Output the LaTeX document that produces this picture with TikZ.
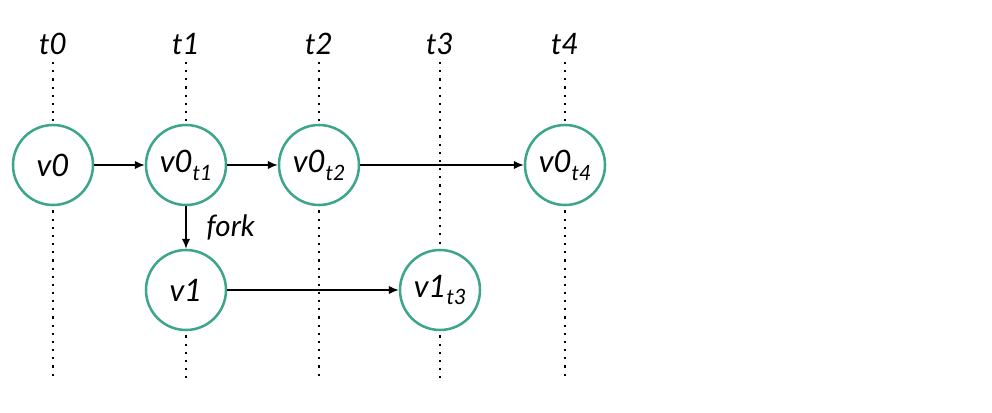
\documentclass[tikz,border=0pt]{standalone}
\usepackage{fontspec}
\setmainfont{Lato}
\usepackage{tikz}
\usetikzlibrary{positioning,arrows.meta}

\definecolor{vgreen}{RGB}{60,165,138}
\newcommand{\vsub}[2]{#1\raisebox{-0.5ex}{\fontsize{15}{15}\selectfont #2}}

\tikzset{
  vertex/.style={circle, draw=vgreen, line width=1.8pt, minimum size=2cm, inner sep=0pt, font=\fontsize{22}{24}\selectfont\itshape},
  tlabel/.style={font=\fontsize{21}{23}\selectfont\itshape, inner sep=2pt},
  timeline/.style={line width=1.5pt, dash pattern=on 1.5pt off 4.3pt, line cap=butt},
  link/.style={-{Latex[length=7pt,width=6pt]}, line width=1.1pt}
}

\begin{document}
\begin{tikzpicture}
  \useasboundingbox (0,0) rectangle (24.8,10.3);
  % time labels
  \node (t0) [tlabel] at (1.325,9.2) {t0};
  \node (t1) [tlabel] at (4.65,9.2) {t1};
  \node (t2) [tlabel] at (7.975,9.2) {t2};
  \node (t3) [tlabel] at (11.0,9.2) {t3};
  \node (t4) [tlabel] at (14.125,9.2) {t4};
  % vertices
  \node (v0) [vertex] at (1.325,6.175) {v0};
  \node (v0t1) [vertex] at (4.65,6.175) {\vsub{v0}{t1}};
  \node (v0t2) [vertex] at (7.975,6.175) {\vsub{v0}{t2}};
  \node (v0t4) [vertex] at (14.125,6.175) {\vsub{v0}{t4}};
  \node (v1) [vertex] at (4.65,3.05) {v1};
  \node (v1t3) [vertex] at (11.0,3.05) {\vsub{v1}{t3}};
  % ends of the time lines
  \coordinate (b0) at (1.325,0.8);
  \coordinate (b1) at (4.65,0.8);
  \coordinate (b2) at (7.975,0.8);
  \coordinate (b3) at (11.0,0.8);
  \coordinate (b4) at (14.125,0.8);
  % time lines
  \draw[timeline, shorten <=3pt] (t0) -- (v0);
  \draw[timeline, shorten <=3pt] (t1) -- (v0t1);
  \draw[timeline, shorten <=3pt] (t2) -- (v0t2);
  \draw[timeline, shorten <=3pt] (t3) -- (v1t3);
  \draw[timeline, shorten <=3pt] (t4) -- (v0t4);
  \draw[timeline, shorten <=3pt] (v0) -- (b0);
  \draw[timeline, shorten <=3pt] (v1) -- (b1);
  \draw[timeline, shorten <=3pt] (v0t2) -- (b2);
  \draw[timeline, shorten <=3pt] (v1t3) -- (b3);
  \draw[timeline, shorten <=3pt] (v0t4) -- (b4);
  % edges
  \draw[link] (v0) -- (v0t1);
  \draw[link] (v0t1) -- (v0t2);
  \draw[link] (v0t2) -- (v0t4);
  \draw[link] (v0t1) -- node[right=12pt, tlabel] {fork} (v1);
  \draw[link] (v1) -- (v1t3);
\end{tikzpicture}
\end{document}
